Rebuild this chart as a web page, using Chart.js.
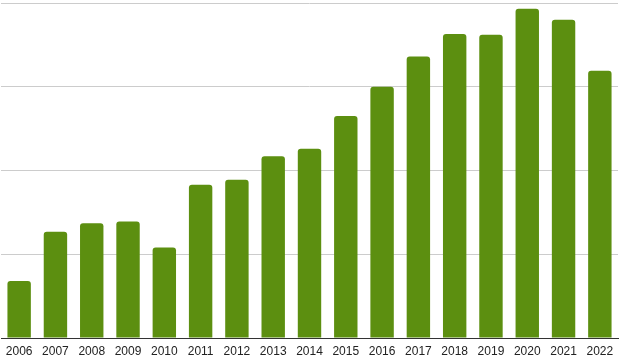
<!DOCTYPE html>
<html>
<head>
<meta charset="utf-8">
<script src="https://cdn.jsdelivr.net/npm/chart.js@4/dist/chart.umd.min.js"></script>
<style>
  html, body { margin: 0; padding: 0; background: #fff; }
  .ChartWrapper { width: 619px; height: 361px; }
</style>
</head>
<body>
<div class="ChartWrapper">
  <canvas id="myChart"></canvas>
</div>
<script>
// data (y units arbitrary, gridlines every 100)
const years = ["2006", "2007", "2008", "2009", "2010", "2011", "2012", "2013", "2014",
               "2015", "2016", "2017", "2018", "2019", "2020", "2021", "2022"];
const values = [68, 127, 137, 139, 108, 183, 189, 217, 226, 265, 300, 336, 363, 362, 393, 380, 319];
const yMax = 400;
const yStep = 100;

const ctx = document.getElementById("myChart").getContext("2d");

new Chart(ctx, {
    type: "bar",
    data: {
        labels: years,
        datasets: [
            {
                data: values,
                backgroundColor: "#5c8f10",
                borderRadius: 3,
                borderSkipped: "bottom",
                categoryPercentage: 1,
                barPercentage: 0.645
            }
        ]
    },
    options: {
        responsive: true,
        maintainAspectRatio: false,
        animation: false,
        layout: { padding: { top: 3, left: 1, right: 1, bottom: 3 } },
        plugins: {
            legend: { display: false },
            tooltip: { enabled: false }
        },
        scales: {
            x: {
                grid: { display: false },
                border: { color: "#333", width: 1 },
                ticks: {
                    color: "#222",
                    font: { family: "Liberation Sans, Arial", size: 12, lineHeight: 1 },
                    padding: 0,
                    maxRotation: 0,
                    autoSkip: false
                }
            },
            y: {
                min: 0,
                max: yMax,
                ticks: { display: false, stepSize: yStep },
                grid: { color: "#cccccc", drawTicks: false },
                border: { display: false }
            }
        }
    }
});
</script>
</body>
</html>
